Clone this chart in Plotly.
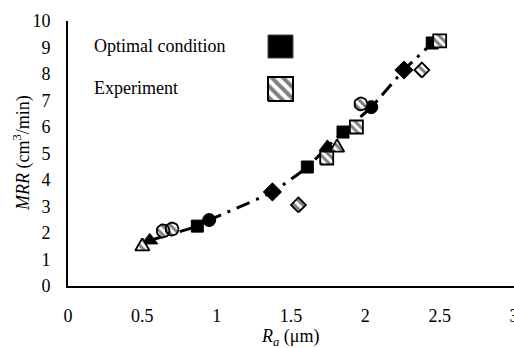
import numpy as np
import plotly.graph_objects as go

# ---------------- data ----------------
opt_shape = ["triangle", "square", "circle", "diamond", "square",
             "triangle", "square", "circle", "diamond", "square"]
opt_ra = [0.55, 0.87, 0.95, 1.375, 1.61, 1.745, 1.85, 2.04, 2.26, 2.45]
opt_mrr = [1.72, 2.26, 2.49, 3.55, 4.49, 5.25, 5.81, 6.75, 8.15, 9.17]

exp_shape = ["triangle", "circle", "circle", "diamond", "square",
             "triangle", "square", "circle", "diamond", "square"]
exp_ra = [0.50, 0.64, 0.70, 1.55, 1.74, 1.81, 1.94, 1.97, 2.38, 2.50]
exp_mrr = [1.55, 2.08, 2.15, 3.06, 4.83, 5.28, 6.00, 6.87, 8.15, 9.25]

x_ticks = [0, 0.5, 1, 1.5, 2, 2.5, 3]
x_ticktext = ["0", "0.5", "1", "1.5", "2", "2.5", "3"]
y_ticks = list(range(0, 11))

legend_labels = ["Optimal condition", "Experiment"]

# ---------------- layout geometry ----------------
W, H = 514, 348
ML, MR, MT, MB = 68, 0, 21, 62
PW, PH = W - ML - MR, H - MT - MB
XR, YR = [0, 3], [0, 10]
SX = PW / (XR[1] - XR[0])   # px per x unit
SY = PH / (YR[1] - YR[0])   # px per y unit
FONT = "Liberation Serif, Times New Roman, serif"
FS = 18

sym = {"triangle": "triangle-up", "square": "square",
       "circle": "circle", "diamond": "diamond"}
size = {"triangle": 14, "square": 12, "circle": 13, "diamond": 14}


def outline(shape, r):
    """Marker outline as pixel offsets (y up)."""
    if shape == "square":
        return [(-r, -r), (r, -r), (r, r), (-r, r), (-r, -r)]
    if shape == "diamond":
        r2 = r * 1.15
        return [(0, -r2), (r2, 0), (0, r2), (-r2, 0), (0, -r2)]
    if shape == "triangle":
        return [(0, r * 1.05), (r * 1.1, -r * 0.85), (-r * 1.1, -r * 0.85), (0, r * 1.05)]
    t = np.linspace(0, 2 * np.pi, 21)
    return list(zip(r * np.cos(t), r * np.sin(t)))


hx, hy = [], []
for s, x, y in zip(exp_shape, exp_ra, exp_mrr):
    for dx, dy in outline(s, 6.5):
        hx.append(x + dx / SX)
        hy.append(y + dy / SY)
    hx.append(None)
    hy.append(None)

fig = go.Figure()

# dash-dot smoothed line through the optimal points
fig.add_trace(go.Scatter(
    x=opt_ra, y=opt_mrr, mode="lines",
    line=dict(color="black", width=3, dash="14px,7px,3px,7px", shape="spline", smoothing=0.5),
    hoverinfo="skip", showlegend=False))

# optimal (solid) markers
for s in ["triangle", "square", "circle", "diamond"]:
    xs = [x for x, k in zip(opt_ra, opt_shape) if k == s]
    ys = [y for y, k in zip(opt_mrr, opt_shape) if k == s]
    fig.add_trace(go.Scatter(
        x=xs, y=ys, mode="markers",
        marker=dict(symbol=sym[s], size=size[s], color="black",
                    line=dict(color="black", width=1)),
        showlegend=False))

# experiment (hatched) markers
fig.add_trace(go.Scatter(
    x=hx, y=hy, mode="lines", fill="toself",
    line=dict(color="black", width=1.8),
    fillcolor="white",
    fillpattern=dict(shape="\\", fgcolor="black", bgcolor="white", size=6, solidity=0.5),
    hoverinfo="skip", showlegend=False))

# legend keys (drawn on a pixel overlay axis: 0..PW, 0..PH)
lx = [200, 225, 225, 200, 200]
fig.add_trace(go.Scatter(
    x=lx, y=[228, 228, 251, 251, 228], xaxis="x2", yaxis="y2",
    mode="lines", fill="toself", fillcolor="black",
    line=dict(color="#444", width=1), hoverinfo="skip", showlegend=False))
fig.add_trace(go.Scatter(
    x=lx, y=[185, 185, 209, 209, 185], xaxis="x2", yaxis="y2",
    mode="lines", fill="toself", fillcolor="white",
    line=dict(color="black", width=2),
    fillpattern=dict(shape="\\", fgcolor="black", bgcolor="white", size=8, solidity=0.5),
    hoverinfo="skip", showlegend=False))

tfont = dict(family=FONT, size=FS, color="black")
annotations = [
    dict(text=legend_labels[0], x=24, y=240, xref="x2", yref="y2",
         xanchor="left", yanchor="middle", showarrow=False, font=tfont),
    dict(text=legend_labels[1], x=24, y=198, xref="x2", yref="y2",
         xanchor="left", yanchor="middle", showarrow=False, font=tfont),
    dict(text="<i>MRR</i> (cm<sup>3</sup>/min)", x=(22 - ML) / PW, y=(H - MB - 153) / PH,
         xref="paper", yref="paper", showarrow=False, textangle=-90,
         xanchor="center", yanchor="middle", font=tfont),
    dict(text="<i>R<sub>a</sub></i> (μm)", x=(290 - ML) / PW, y=(H - MB - 337) / PH,
         xref="paper", yref="paper", showarrow=False,
         xanchor="center", yanchor="middle", font=tfont),
]

fig.update_layout(
    width=W, height=H,
    margin=dict(l=ML, r=MR, t=MT, b=MB, autoexpand=False),
    paper_bgcolor="white", plot_bgcolor="white",
    font=tfont,
    xaxis=dict(range=XR, tickvals=x_ticks, ticktext=x_ticktext, showgrid=False,
               zeroline=False, showline=True, linecolor="black", linewidth=2,
               ticks="", ticklabelstandoff=12, ticklabeloverflow="allow", tickfont=tfont),
    yaxis=dict(range=YR, tickvals=y_ticks, showgrid=False, zeroline=False,
               showline=True, linecolor="black", linewidth=2,
               ticks="", ticklabelstandoff=12, tickfont=tfont),
    xaxis2=dict(range=[0, PW], overlaying="x", visible=False, fixedrange=True),
    yaxis2=dict(range=[0, PH], overlaying="y", visible=False, fixedrange=True),
    annotations=annotations,
    showlegend=False,
)

fig.write_html("out.html", config={"displayModeBar": False},
               post_script="document.body.style.margin='0';document.body.style.overflow='hidden';")
